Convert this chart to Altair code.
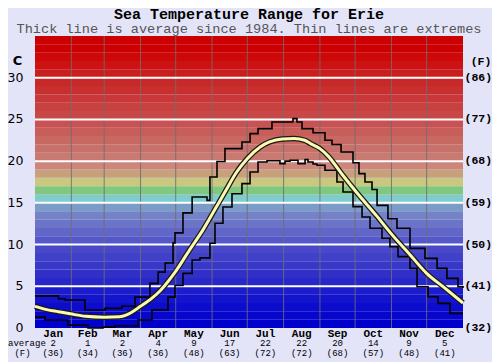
import altair as alt
import pandas as pd

# ---------------- data ----------------
TITLE = "Sea Temperature Range for Erie"
SUBTITLE = "Thick line is average since 1984. Thin lines are extremes"

avg_day = [0, 10, 20, 30, 43, 59, 72, 80, 90, 100, 107, 119, 132, 143, 153, 162, 172, 181, 192, 200,
           211, 221, 230, 235, 243, 250, 262, 274, 291, 305, 320, 334, 348, 365]
avg_temp = [2.6, 2.2, 1.95, 1.7, 1.4, 1.3, 1.35, 1.7, 2.6, 3.6, 4.5, 6.6, 9.4, 11.7, 14.1, 16.3, 18.7, 20.3, 21.7, 22.3,
            22.65, 22.7, 22.5, 22.1, 21.5, 20.6, 18.4, 16.3, 13.5, 11.1, 8.75, 6.55, 4.95, 3.0]

max_day = [0, 20, 25.6, 42.6, 59.7, 74, 85.3, 98, 105, 111, 117.7, 119.4, 126.2, 134, 146.7, 149.2, 155.2, 162,
           176.5, 183.4, 190.2, 202.1, 220, 223.4, 227.7, 237.1, 247.3, 253.3, 261, 271.2, 276.3, 281.4, 287.4,
           291.7, 301, 308.7, 319.8, 332.6, 342.9, 351.3, 360.7, 365]
max_temp = [3.85, 3.5, 3.35, 2.15, 2.35, 2.6, 3.7, 5.35, 6.7, 7.8, 10.2, 11.4, 13.8, 15.7, 15.3, 18.1, 19.95, 21.5,
            22.3, 23.3, 23.9, 24.7, 25.1, 24.7, 23.9, 23.4, 22.5, 22.0, 21.1, 19.8, 18.5, 17.5, 16.6,
            14.7, 13.1, 11.95, 9.55, 8.35, 7.15, 5.95, 4.95, 4.8]

min_day = [0, 8.5, 28, 45.2, 58, 68.2, 87.8, 99.8, 113.4, 119.4, 126.2, 134, 140.7, 149.2, 153.5, 160.3, 168,
           176.5, 183.4, 190.2, 197.9, 208.9, 213.2, 217.5, 224.3, 230.3, 232.8, 237.1, 240.5, 247.3, 257.5,
           262.7, 271.2, 278.9, 285.7, 295.9, 302.7, 309.6, 319.8, 325.8, 335.2, 343.7, 353.9, 365]
min_temp = [1.3, 0.95, 0.35, 0.0, 0.1, 0.25, 0.95, 2.15, 3.7, 5.1, 6.55, 8.15, 8.4, 10.15, 12.55, 14.5, 16.1,
            17.3, 18.7, 19.9, 20.05, 19.7, 20.0, 20.1, 19.7, 20.2, 19.9, 19.65, 19.5, 18.9, 17.5,
            16.3, 14.55, 13.3, 11.95, 10.75, 9.75, 8.55, 7.15, 4.95, 3.75, 2.95, 1.75, 1.75]

months = ["Jan", "Feb", "Mar", "Apr", "May", "Jun", "Jul", "Aug", "Sep", "Oct", "Nov", "Dec"]
month_len = [31, 28, 31, 30, 31, 30, 31, 31, 30, 31, 30, 31]
month_avg_c = ["2", "1", "2", "4", "9", "17", "22", "22", "20", "14", "9", "5"]
month_avg_f = ["(36)", "(34)", "(36)", "(36)", "(48)", "(63)", "(72)", "(72)", "(68)", "(57)", "(48)", "(41)"]

c_ticks = [0, 5, 10, 15, 20, 25, 30]
f_labels = ["(32)", "(41)", "(50)", "(59)", "(68)", "(77)", "(86)"]

band_lo = list(range(0, 35))
band_colors = [
    "#0000cc", "#0606cc", "#0c0ccc", "#1414cc", "#1c1ccc", "#2828c8", "#3030c8", "#3838c8", "#4040c8", "#4848c8",
    "#5558c8", "#6266c8", "#6c74c8", "#7482c8", "#7a9cc6", "#80cccc", "#80c880", "#c8c880", "#c8a07c", "#cd867c",
    "#c87a70", "#c8706a", "#c86862", "#c85e5a", "#c85252", "#c84848", "#c84040", "#c83838", "#c83030", "#c82828",
    "#ca1e1e", "#cc1212", "#cc0808", "#cc0000", "#cc0000",
]

# ---------------- tables ----------------
starts = [sum(month_len[:i]) for i in range(12)]
mid = [s + l / 2 for s, l in zip(starts, month_len)]
months_df = pd.DataFrame({"day": mid, "m": months, "c": month_avg_c, "f": month_avg_f})
bounds_df = pd.DataFrame({"day": starts[1:]})
bands_df = pd.DataFrame({"lo": band_lo, "hi": [b + 1 for b in band_lo]})
ticks_df = pd.DataFrame({"temp": c_ticks, "c": [str(t) for t in c_ticks], "f": f_labels})
hlines_df = pd.DataFrame({"temp": c_ticks[1:]})
avg_df = pd.DataFrame({"day": avg_day, "temp": avg_temp})
max_df = pd.DataFrame({"day": max_day, "temp": max_temp})
min_df = pd.DataFrame({"day": min_day, "temp": min_temp})

W, H = 428, 292
xs = alt.Scale(domain=[0, 365], nice=False, zero=False)
ys = alt.Scale(domain=[0, 35], nice=False, zero=True)
MONO = "Liberation Mono"

bands = alt.Chart(bands_df).mark_rect(strokeWidth=0).encode(
    y=alt.Y("lo:Q", scale=ys, axis=None),
    y2="hi:Q",
    x=alt.value(0),
    x2=alt.value(W),
    color=alt.Color("lo:O", scale=alt.Scale(domain=band_lo, range=band_colors), legend=None),
)

vgrid = alt.Chart(bounds_df).mark_rule(color="#6e6e6e", strokeWidth=1, opacity=0.85).encode(
    x=alt.X("day:Q", scale=xs, axis=None),
    y=alt.value(0),
    y2=alt.value(H),
)

hgrid = alt.Chart(hlines_df).mark_rule(color="white", strokeWidth=2).encode(
    y=alt.Y("temp:Q", scale=ys, axis=None),
    x=alt.value(0),
    x2=alt.value(W),
)

def ext_line(df):
    return alt.Chart(df).mark_line(color="black", strokeWidth=1.6, interpolate="step-after").encode(
        x=alt.X("day:Q", scale=xs, axis=None),
        y=alt.Y("temp:Q", scale=ys, axis=None),
    )

avg_out = alt.Chart(avg_df).mark_line(color="#1a1a1a", strokeWidth=5.5, interpolate="monotone").encode(
    x=alt.X("day:Q", scale=xs, axis=None),
    y=alt.Y("temp:Q", scale=ys, axis=None),
)
avg_in = alt.Chart(avg_df).mark_line(color="#fafab0", strokeWidth=3, interpolate="monotone").encode(
    x=alt.X("day:Q", scale=xs, axis=None),
    y=alt.Y("temp:Q", scale=ys, axis=None),
)

left_lbl = alt.Chart(ticks_df).mark_text(
    align="right", baseline="middle", font="DejaVu Sans", fontSize=12.5, color="black"
).encode(y=alt.Y("temp:Q", scale=ys, axis=None), x=alt.value(-11.5), text="c:N")

right_lbl = alt.Chart(ticks_df).mark_text(
    align="left", baseline="middle", font=MONO, fontSize=11.5, fontWeight="bold", color="black"
).encode(y=alt.Y("temp:Q", scale=ys, axis=None), x=alt.value(429.5), text="f:N")

month_lbl = alt.Chart(months_df).mark_text(
    align="center", baseline="middle", font=MONO, fontSize=11, fontWeight="bold", color="black"
).encode(x=alt.X("day:Q", scale=xs, axis=None), y=alt.value(298), text="m:N")

month_c = alt.Chart(months_df).mark_text(
    align="center", baseline="middle", font=MONO, fontSize=9, color="black"
).encode(x=alt.X("day:Q", scale=xs, axis=None), y=alt.value(307.3), text="c:N")

month_f = alt.Chart(months_df).mark_text(
    align="center", baseline="middle", font=MONO, fontSize=9, color="black"
).encode(x=alt.X("day:Q", scale=xs, axis=None), y=alt.value(316.7), text="f:N")

one = pd.DataFrame({
    "title": [TITLE], "sub": [SUBTITLE], "c": ["C"], "f": ["(F)"], "avg": ["average"], "avgf": ["(F)"],
})
title = alt.Chart(one).mark_text(
    align="center", baseline="alphabetic", font=MONO, fontSize=15, fontWeight="bold", color="black"
).encode(x=alt.value(214), y=alt.value(-17.4), text="title:N")
subtitle = alt.Chart(one).mark_text(
    align="center", baseline="middle", font=MONO, fontSize=13.6, color="#555555"
).encode(x=alt.value(214), y=alt.value(-6.9), text="sub:N")
c_unit = alt.Chart(one).mark_text(
    align="center", baseline="middle", font="DejaVu Sans", fontSize=13, fontWeight="bold", color="black"
).encode(x=alt.value(-17.5), y=alt.value(25), text="c:N")
f_unit = alt.Chart(one).mark_text(
    align="center", baseline="middle", font=MONO, fontSize=11.5, fontWeight="bold", color="black"
).encode(x=alt.value(446), y=alt.value(26), text="f:N")
avg_word = alt.Chart(one).mark_text(
    align="left", baseline="middle", font=MONO, fontSize=9, color="black"
).encode(x=alt.value(-27), y=alt.value(307.3), text="avg:N")
avg_fw = alt.Chart(one).mark_text(
    align="center", baseline="middle", font=MONO, fontSize=9, color="black"
).encode(x=alt.value(-12.5), y=alt.value(316.7), text="avgf:N")

chart = alt.layer(
    bands, vgrid, hgrid, ext_line(max_df), ext_line(min_df), avg_out, avg_in,
    left_lbl, right_lbl, month_lbl, month_c, month_f,
    title, subtitle, c_unit, f_unit, avg_word, avg_fw,
).properties(
    width=W, height=H,
    padding={"left": 27, "top": 28, "right": 29, "bottom": 34},
    autosize=alt.AutoSizeParams(type="none"),
    background="#e4e4f8",
).configure_view(stroke=None)

chart.save("out.html", embed_options={"renderer": "svg", "actions": False})
